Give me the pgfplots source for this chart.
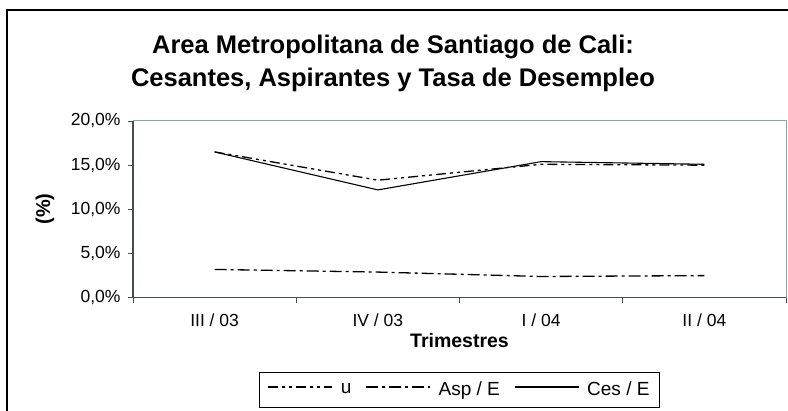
\documentclass[border=0pt]{standalone}
\usepackage{pgfplots}
\pgfplotsset{compat=1.18}
\usepackage{fontspec}
\setmainfont{Liberation Sans}
\definecolor{axdark}{RGB}{70,80,80}
\definecolor{axlight}{RGB}{145,160,160}
\begin{document}
\begin{tikzpicture}[x=1pt,y=1pt]
\useasboundingbox (0,0) rectangle (788,-411);
\draw[line width=1.5pt] (7,-10) rectangle (830,-440);
\node[font=\bfseries\fontsize{25.5}{30}\selectfont] at (393,-47) {Area Metropolitana de Santiago de Cali:};
\node[font=\bfseries\fontsize{25.5}{30}\selectfont] at (393,-80) {Cesantes, Aspirantes y Tasa de Desempleo};
\node[font=\bfseries\fontsize{20}{22}\selectfont, rotate=90] at (45,-209) {(\%)};
\node[font=\bfseries\fontsize{19.5}{22}\selectfont] at (459.5,-341) {Trimestres};
\begin{axis}[
  at={(133pt,-297.7pt)}, anchor=south west,
  width=653pt, height=176.7pt, scale only axis,
  xmin=-0.5, xmax=3.5, ymin=0, ymax=20,
  xtick={0,1,2,3},
  xticklabels={III / 03, IV / 03, I / 04, II / 04},
  major x tick style={draw=none},
  minor xtick={-0.5,0.5,1.5,2.5,3.5},
  minor tick length=5pt,
  minor x tick style={axdark, line width=0.8pt},
  ytick={0,5,10,15,20},
  yticklabels={{0,0\%},{5,0\%},{10,0\%},{15,0\%},{20,0\%}},
  major tick length=5pt,
  tick align=outside,
  tick pos=left,
  y tick style={axdark, line width=0.8pt},
  axis line style={draw=none},
  ticklabel style={font=\fontsize{17.5}{21}\selectfont},
  xticklabel style={yshift=-8pt},
  yticklabel style={xshift=-4pt},
  clip=false,
  legend columns=3,
  legend style={at={(0.5,-0.52)}, anchor=center, draw=black, line width=0.8pt,
    font=\fontsize{19}{21}\selectfont, inner xsep=8pt, inner ysep=8pt,
    /tikz/every odd column/.append style={column sep=6pt},
    /tikz/every even column/.append style={column sep=12pt}},
  legend image code/.code={\draw[#1, line width=1.3pt] (0,2.5pt) -- (64pt,2.5pt);},
]
\draw[axlight, line width=1pt] (rel axis cs:0,1) -- (rel axis cs:1,1) -- (rel axis cs:1,0);
\draw[axdark, line width=1.2pt] (rel axis cs:0,1) -- (rel axis cs:0,0) -- (rel axis cs:1,0);
\addplot[black, line width=1.3pt, dash pattern=on 10pt off 4pt on 3pt off 4pt on 3pt off 4pt]
  coordinates {(0,16.5) (1,13.3) (2,15.1) (3,15.0)};
\addlegendentry{u}
\addplot[black, line width=1.3pt, dash pattern=on 12pt off 4pt on 3pt off 4pt]
  coordinates {(0,3.2) (1,2.9) (2,2.4) (3,2.5)};
\addlegendentry{Asp / E}
\addplot[black, line width=1.1pt]
  coordinates {(0,16.5) (1,12.2) (2,15.4) (3,15.1)};
\addlegendentry{Ces / E}
\end{axis}
\end{tikzpicture}
\end{document}
